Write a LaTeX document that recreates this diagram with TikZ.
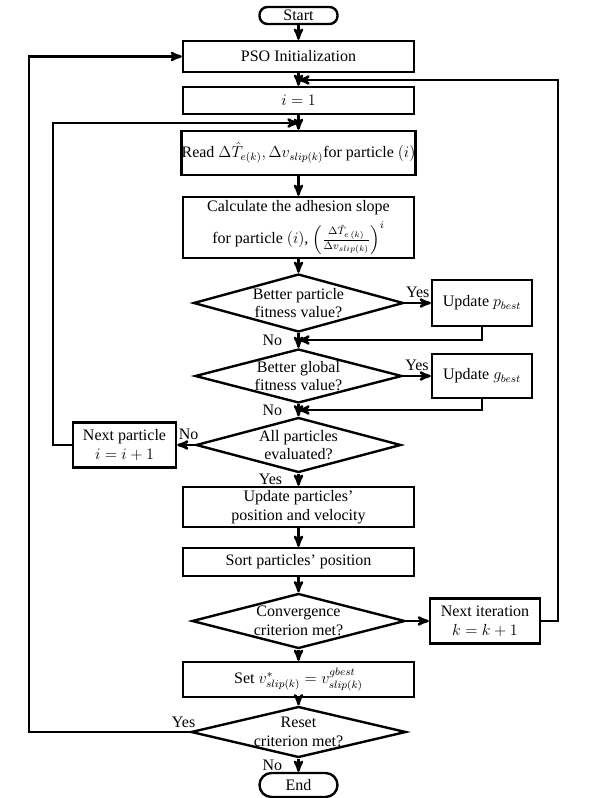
\documentclass[tikz,border=0pt]{standalone}
\usepackage{amsmath}
\usepackage{fontspec}
\setmainfont{Liberation Serif}
\usetikzlibrary{arrows,shapes.geometric}

\begin{document}
\begin{tikzpicture}[->,>=stealth',auto,x=0.75pt,y=-0.75pt,
                    line width=1.8pt,font=\fontsize{12}{14}\selectfont,
                    main node/.style={rectangle,draw,align=center,inner sep=0pt,minimum width=173.25pt},
                    side node/.style={rectangle,draw,align=center,inner sep=0pt,minimum width=75pt,minimum height=33.75pt},
                    end node/.style={rectangle,draw,rounded corners=6pt,inner sep=0pt,minimum width=58.5pt},
                    check node/.style={diamond,draw,align=center,aspect=3.6,inner sep=-4pt}]

  \useasboundingbox (0,0) rectangle (598,798);

  \node[end node,minimum height=12.75pt] (1) at (298.5,15.5) {Start};
  \node[main node,minimum height=23.25pt] (2) at (298.5,56.5) {PSO Initialization};
  \node[main node,minimum height=20.25pt] (3) at (298.5,100.5) {$i=1$};
  \node[main node,minimum height=33pt] (4) at (298.5,153) {Read $\Delta\hat{T}_{e(k)},\Delta v_{slip(k)}$for particle $(i)$};
  \node[main node,minimum height=45.75pt] (5) at (298.5,227.5) {Calculate the adhesion slope\\[4pt]for particle $(i)$, $\left(\frac{\Delta\hat{T}_{e\,(k)}}{\Delta v_{slip(k)}}\right)^{i}$};
  \node[check node,minimum width=157.5pt,minimum height=43.5pt] (6) at (298.5,303) {Better particle\\fitness value?};
  \node[side node,minimum height=34.5pt] (7) at (482,303) {Update $p_{best}$};
  \node[check node,minimum width=155.25pt,minimum height=40.5pt] (8) at (298.5,376) {Better global\\fitness value?};
  \node[side node,minimum height=33pt] (9) at (482,376) {Update $g_{best}$};
  \node[check node,minimum width=153.75pt,minimum height=41.25pt] (10) at (298.5,445) {All particles\\evaluated?};
  \node[side node,minimum width=77.25pt] (11) at (124.5,445) {Next particle\\$i=i+1$};
  \node[main node,minimum height=30pt] (12) at (298.5,507) {Update particles'\\position and velocity};
  \node[main node,minimum height=21pt] (13) at (298.5,562) {Sort particles' position};
  \node[check node,minimum width=159.75pt,minimum height=41.25pt] (14) at (298.5,621) {Convergence\\criterion met?};
  \node[side node,minimum width=82.5pt] (15) at (485,621) {Next iteration\\$k=k+1$};
  \node[main node,minimum height=26.25pt] (16) at (298.5,679.5) {Set $v^{*}_{slip(k)}=v^{gbest}_{slip(k)}$};
  \node[check node,minimum width=161.25pt,minimum height=38.25pt] (17) at (298.5,732) {Reset\\criterion met?};
  \node[end node,minimum height=18pt,rounded corners=9pt] (18) at (298.5,785) {End};

  % loop columns and joins
  \coordinate (L1) at (29,0);
  \coordinate (L2) at (53,0);
  \coordinate (R1) at (558,0);
  \coordinate (c0) at (298.5,123);
  \coordinate (c1) at (298.5,340);
  \coordinate (c2) at (298.5,410);
  \coordinate (c3) at (298.5,80);

  \path
    (1) edge (2)
    (2) edge (3)
    (3) edge (4)
    (4) edge (5)
    (5) edge (6)
    (6) edge node {Yes} (7)
    (6) edge [swap] node[xshift=-8pt] {No} (8)
    (8) edge node {Yes} (9)
    (8) edge [swap] node[xshift=-8pt] {No} (10)
    (10) edge [swap] node[pos=0.35] {No} (11)
    (10) edge [swap] node[xshift=-8pt] {Yes} (12)
    (12) edge (13)
    (13) edge (14)
    (14) edge (15)
    (14) edge (16)
    (16) edge (17)
    (17) edge [swap] node[xshift=-8pt] {No} (18)
;

  \draw (7.south) |- (c1);
  \draw (9.south) |- (c2);
  \draw (11.west) -- (11.west -| L2) |- (c0);
  \draw (15.east) -- (15.east -| R1) |- (c3);
  \draw (17.west) node[above left,inner sep=2pt,xshift=7pt] {Yes} -- (17.west -| L1) |- (2.west);
\end{tikzpicture}
\end{document}
